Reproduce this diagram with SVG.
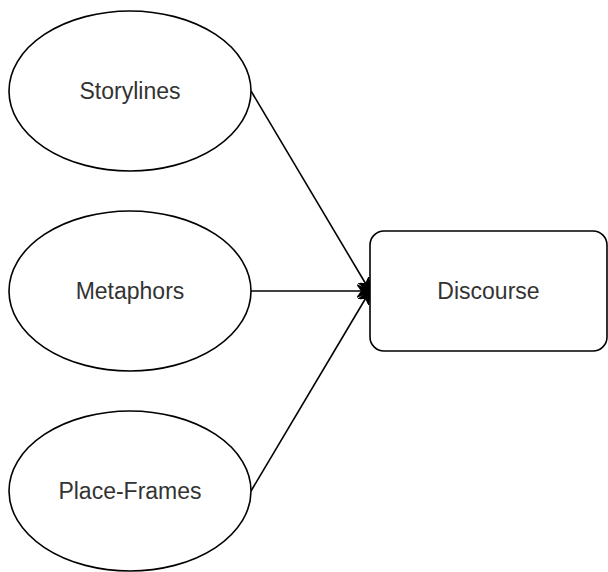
<svg xmlns="http://www.w3.org/2000/svg" width="608" height="572" viewBox="0 0 608 572">
<style>
.n{fill:#fff;stroke:#000;stroke-width:1.6}
.t{font-family:"Liberation Sans",Arial,sans-serif;font-size:23px;fill:#333;text-anchor:middle;dominant-baseline:central}
.c{stroke:#000;stroke-width:1.6;fill:none}
</style>
<defs>
<marker id="arr" viewBox="0 0 10 10" refX="9" refY="5" markerWidth="14" markerHeight="14" markerUnits="userSpaceOnUse" orient="auto">
<path d="M0,0.8 L10,5 L0,9.2 L3,5 Z" fill="#000" stroke="#000" stroke-width="0.8"/>
</marker>
</defs>
<rect width="608" height="572" fill="#fff"/>
<g id="connectors">
<line class="c" x1="251" y1="91" x2="370" y2="291" marker-end="url(#arr)"/>
<line class="c" x1="251" y1="291" x2="370" y2="291" marker-end="url(#arr)"/>
<line class="c" x1="251" y1="491" x2="370" y2="291" marker-end="url(#arr)"/>
</g>
<g id="storylines">
<ellipse class="n" cx="130" cy="91" rx="121" ry="80"/>
<text class="t" x="130" y="91">Storylines</text>
</g>
<g id="metaphors">
<ellipse class="n" cx="130" cy="291" rx="121" ry="80"/>
<text class="t" x="130" y="291">Metaphors</text>
</g>
<g id="place-frames">
<ellipse class="n" cx="130" cy="491" rx="121" ry="80"/>
<text class="t" x="130" y="491">Place-Frames</text>
</g>
<g id="discourse">
<rect class="n" x="370" y="231" width="237" height="120" rx="14"/>
<text class="t" x="488.5" y="291">Discourse</text>
</g>
</svg>
